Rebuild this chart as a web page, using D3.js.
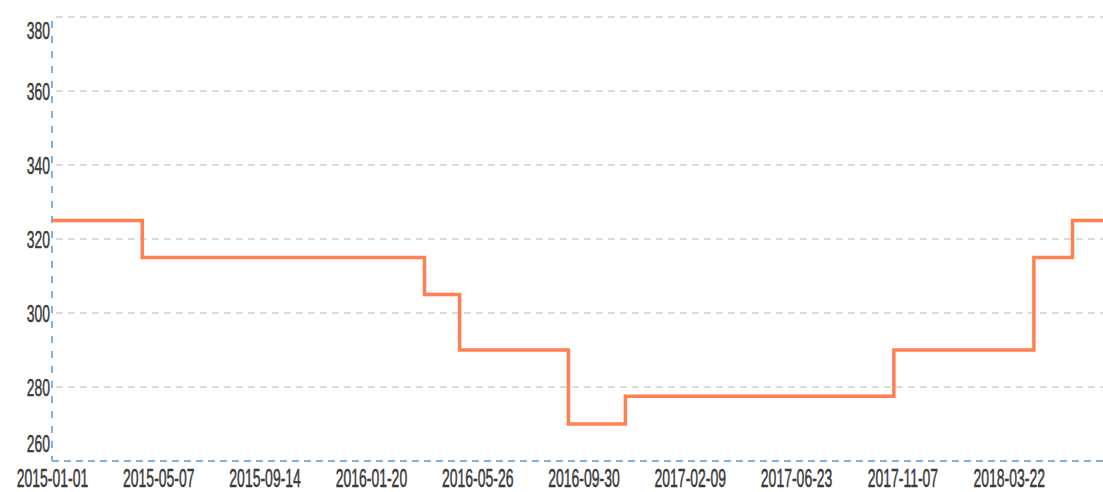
<!DOCTYPE html>
<html><head><meta charset="utf-8">
<script src="https://cdn.jsdelivr.net/npm/d3@7"></script>
<style>
html,body{margin:0;padding:0;background:#fff;}
svg{display:block;}
</style></head>
<body>
<svg id="chart" width="1103" height="492"></svg>
<script>
// ---- data ----
const tickLabels = ["2015-01-01","2015-05-07","2015-09-14","2016-01-20","2016-05-26","2016-09-30","2017-02-09","2017-06-23","2017-11-07","2018-03-22"];
const stepDates = ["2015-01-01","2015-04-18","2016-03-24","2016-05-05","2016-09-12","2016-11-21","2017-10-27","2018-04-23","2018-06-11","2018-07-20"];
const stepValues = [325,315,305,290,270,277.5,290,315,325,325];
const yTicks = [260,280,300,320,340,360,380];

(function () {
// ---- layout ----
const mLeft = 52, mRight = 1103, mTop = 17, mBottom = 461;
const tickStep = 106.3;
const parse = d3.timeParse("%Y-%m-%d");

const svg = d3.select("#chart");

// category-like time axis: equal spacing between labelled dates
const x = d3.scaleTime()
  .domain(tickLabels.map(parse))
  .range(tickLabels.map((d, i) => mLeft + i * tickStep));
const y = d3.scaleLinear().domain([260, 380]).range([mBottom, mTop]);

// gridlines
svg.append("g").selectAll("line")
  .data(yTicks.filter(v => v > 260))
  .join("line")
  .attr("x1", mLeft + 4).attr("x2", mRight)
  .attr("y1", d => y(d)).attr("y2", d => y(d))
  .attr("stroke", "#cfcfcf").attr("stroke-width", 1.6)
  .attr("stroke-dasharray", "6.5,5.5");

// axes lines (dashed blue)
const axisColor = "#7eb1de";
svg.append("line")
  .attr("x1", mLeft).attr("x2", mLeft).attr("y1", mTop + 4).attr("y2", mBottom)
  .attr("stroke", axisColor).attr("stroke-width", 2).attr("stroke-dasharray", "7,8");
svg.append("line")
  .attr("x1", mLeft).attr("x2", mRight).attr("y1", mBottom).attr("y2", mBottom)
  .attr("stroke", axisColor).attr("stroke-width", 2).attr("stroke-dasharray", "7,5");

const textColor = "#3a3a3a";

// y labels
const yAxisG = svg.append("g").attr("transform", `translate(${mLeft},0)`)
  .call(d3.axisLeft(y).tickValues(yTicks).tickSize(0).tickPadding(0).tickFormat(d3.format("d")));
yAxisG.select(".domain").remove();
yAxisG.selectAll(".tick text")
  .attr("font-family", "Liberation Sans, Arial, sans-serif")
  .attr("font-size", 24).attr("fill", textColor)
  .attr("stroke", textColor).attr("stroke-width", 0.5)
  .attr("text-anchor", "end")
  .attr("dy", null)
  .attr("x", null)
  .attr("transform", d => {
    let off = 0;
    if (d === 380) off = 13;
    if (d === 260) off = -18;
    return `translate(-2,${off + 8.5}) scale(0.58,1)`;
  });

// x labels
const xAxisG = svg.append("g").attr("transform", `translate(0,${mBottom})`)
  .call(d3.axisBottom(x).tickValues(tickLabels.map(parse)).tickSize(0).tickPadding(0)
    .tickFormat(d3.timeFormat("%Y-%m-%d")));
xAxisG.select(".domain").remove();
xAxisG.selectAll(".tick text")
  .attr("font-family", "Liberation Sans, Arial, sans-serif")
  .attr("font-size", 25).attr("fill", textColor)
  .attr("stroke", textColor).attr("stroke-width", 0.5)
  .attr("dy", null).attr("y", null)
  .attr("transform", "translate(0,25.5) scale(0.56,1.05)");

// step line
const line = d3.line()
  .x((d, i) => x(parse(stepDates[i])))
  .y(d => y(d))
  .curve(d3.curveStepAfter);
svg.append("path")
  .datum(stepValues)
  .attr("d", line)
  .attr("fill", "none")
  .attr("stroke", "#ff8050")
  .attr("stroke-width", 3.5);
})();
</script>
</body></html>
